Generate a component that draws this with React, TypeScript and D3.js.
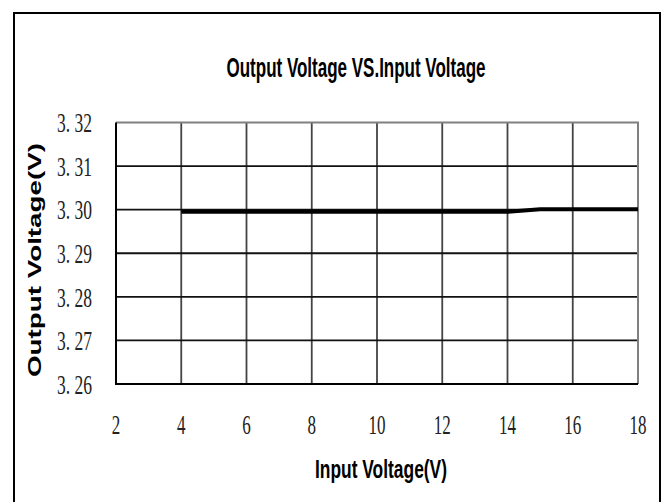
import { useEffect, useRef } from "react";
import * as d3 from "d3";

const inputVoltage = [4, 5, 6, 7, 8, 9, 10, 11, 12, 13, 14, 15, 16, 17, 18];
const outputVoltage = [
  3.2995, 3.2995, 3.2995, 3.2995, 3.2995, 3.2995, 3.2995, 3.2995, 3.2995,
  3.2995, 3.2995, 3.3001, 3.3001, 3.3001, 3.3001,
];
const xTicks = [2, 4, 6, 8, 10, 12, 14, 16, 18];
const yTicks = [3.26, 3.27, 3.28, 3.29, 3.3, 3.31, 3.32];
const yTickLabels = ["3. 26", "3. 27", "3. 28", "3. 29", "3. 30", "3. 31", "3. 32"];

const App = () => {
  const ref = useRef<SVGSVGElement>(null);

  useEffect(() => {
    if (!ref.current) return;
    const width = 667;
    const height = 502;
    const left = 116;
    const right = 638;
    const top = 122.5;
    const bottom = 384;

    const svg = d3.select(ref.current);
    svg.selectAll("*").remove();

    const x = d3.scaleLinear().domain([2, 18]).range([left, right]);
    const y = d3.scaleLinear().domain([3.26, 3.32]).range([bottom, top]);

    // outer frame, runs off the bottom of the picture
    svg
      .append("rect")
      .attr("x", 14)
      .attr("y", 13)
      .attr("width", 646)
      .attr("height", 600)
      .attr("fill", "white")
      .attr("stroke", "black")
      .attr("stroke-width", 2);

    // title
    svg
      .append("text")
      .attr("x", 356)
      .attr("y", 77)
      .attr("text-anchor", "middle")
      .attr("font-family", "Liberation Sans, Arial, sans-serif")
      .attr("font-weight", "bold")
      .attr("font-size", 27)
      .attr("textLength", 259)
      .attr("lengthAdjust", "spacingAndGlyphs")
      .text("Output Voltage VS.Input Voltage");

    // vertical grid
    svg
      .append("g")
      .selectAll("line")
      .data(xTicks.slice(1, -1))
      .join("line")
      .attr("x1", (d) => x(d))
      .attr("x2", (d) => x(d))
      .attr("y1", top)
      .attr("y2", bottom)
      .attr("stroke", "#444")
      .attr("stroke-width", 1.8);

    // horizontal grid
    svg
      .append("g")
      .selectAll("line")
      .data(yTicks.slice(1, -1))
      .join("line")
      .attr("x1", left)
      .attr("x2", right)
      .attr("y1", (d) => y(d))
      .attr("y2", (d) => y(d))
      .attr("stroke", "#111")
      .attr("stroke-width", 1.8);

    // top and right border (gray)
    svg
      .append("path")
      .attr("d", `M${left},${top}H${right}V${bottom}`)
      .attr("fill", "none")
      .attr("stroke", "#808080")
      .attr("stroke-width", 2);

    // axes lines
    svg
      .append("path")
      .attr("d", `M${left},${top}V${bottom}H${right}`)
      .attr("fill", "none")
      .attr("stroke", "black")
      .attr("stroke-width", 2);

    // y tick labels
    svg
      .append("g")
      .selectAll("text")
      .data(yTicks)
      .join("text")
      .attr("x", 92)
      .attr("y", (d) => y(d))
      .attr("dy", "0.35em")
      .attr("text-anchor", "end")
      .attr("font-family", "Liberation Serif, serif")
      .attr("font-size", 28)
      .attr("textLength", 35)
      .attr("lengthAdjust", "spacingAndGlyphs")
      .attr("fill", "#222")
      .text((d, i) => yTickLabels[i]);

    // x tick labels
    svg
      .append("g")
      .selectAll("text")
      .data(xTicks)
      .join("text")
      .attr("x", (d) => x(d))
      .attr("y", 424)
      .attr("dy", "0.35em")
      .attr("text-anchor", "middle")
      .attr("font-family", "Liberation Serif, serif")
      .attr("font-size", 28)
      .attr("textLength", (d) => String(d).length * 8.5)
      .attr("lengthAdjust", "spacingAndGlyphs")
      .attr("fill", "#222")
      .text((d) => String(d));

    // x axis title
    svg
      .append("text")
      .attr("x", 381)
      .attr("y", 478)
      .attr("text-anchor", "middle")
      .attr("font-family", "Liberation Sans, Arial, sans-serif")
      .attr("font-weight", "bold")
      .attr("font-size", 25)
      .attr("textLength", 132)
      .attr("lengthAdjust", "spacingAndGlyphs")
      .text("Input Voltage(V)");

    // y axis title
    svg
      .append("text")
      .attr("transform", `translate(34,260) rotate(-90)`)
      .attr("text-anchor", "middle")
      .attr("dy", "0.36em")
      .attr("font-family", "Liberation Sans, Arial, sans-serif")
      .attr("font-weight", "bold")
      .attr("font-size", 19)
      .attr("textLength", 234)
      .attr("lengthAdjust", "spacingAndGlyphs")
      .text("Output Voltage(V)");

    // data line
    const line = d3
      .line<number>()
      .x((d, i) => x(inputVoltage[i]))
      .y((d) => y(d));

    svg
      .append("path")
      .datum(outputVoltage)
      .attr("d", line)
      .attr("fill", "none")
      .attr("stroke", "black")
      .attr("stroke-width", 4);

    svg.attr("viewBox", [0, 0, width, height]);
  }, []);

  return (
    <svg
      ref={ref}
      width={667}
      height={502}
      style={{ position: "absolute", left: 0, top: 0, background: "white" }}
    />
  );
};

export default App;
